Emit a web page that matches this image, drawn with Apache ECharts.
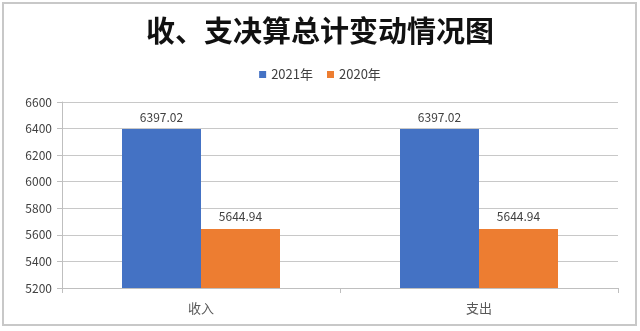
<!DOCTYPE html>
<html>
<head>
<meta charset="utf-8">
<script src="https://cdn.jsdelivr.net/npm/echarts@6/dist/echarts.min.js"></script>
<style>
  html, body { margin: 0; padding: 0; background: #fff; }
  #main { width: 640px; height: 331px; }
</style>
</head>
<body>
<div id="main"></div>
<script>
// 数据
const categories = ['收入', '支出'];
const seriesNames = ['2021年', '2020年'];
const values2021 = [6397.02, 6397.02];
const values2020 = [5644.94, 5644.94];
const yTicks = [5200, 5400, 5600, 5800, 6000, 6200, 6400, 6600];

let chart = echarts.init(document.getElementById('main'));
const fontCn = '"Microsoft YaHei", "Noto Sans CJK SC", sans-serif';

chart.setOption({
  animation: false,
  color: ['#4472C4', '#ED7D31'],
  textStyle: { fontFamily: fontCn },
  graphic: [
    {
      type: 'rect',
      shape: { x: 3, y: 3, width: 633, height: 322 },
      style: { fill: 'none', stroke: '#c8c8c8', lineWidth: 2 }
    }
  ],
  title: {
    text: '收、支决算总计变动情况图',
    left: 'center',
    top: 11,
    textStyle: { fontSize: 29, fontWeight: 'bold', color: '#111', fontFamily: fontCn }
  },
  legend: {
    top: 63,
    left: 'center',
    itemWidth: 7,
    itemHeight: 7,
    itemGap: 14,
    icon: 'rect',
    textStyle: { fontSize: 13, color: '#404040' },
    data: seriesNames
  },
  grid: { left: 62, right: 22, top: 102, bottom: 43 },
  xAxis: {
    type: 'category',
    data: categories,
    axisLine: { lineStyle: { color: '#bfbfbf', width: 1 } },
    axisTick: { show: true, length: 5, lineStyle: { color: '#bfbfbf' } },
    axisLabel: { fontSize: 13, color: '#595959', margin: 14 }
  },
  yAxis: {
    type: 'value',
    min: yTicks[0],
    max: yTicks[yTicks.length - 1],
    interval: 200,
    axisLine: { show: true, lineStyle: { color: '#bfbfbf' } },
    axisTick: { show: true, length: 5, lineStyle: { color: '#bfbfbf' } },
    axisLabel: { fontSize: 12, color: '#404040', margin: 10, formatter: v => String(v) },
    splitLine: { lineStyle: { color: '#c8c8c8', width: 1 } }
  },
  series: [
    {
      name: seriesNames[0],
      type: 'bar',
      data: values2021,
      barWidth: 79,
      barGap: '0%',
      label: { show: true, position: 'top', fontSize: 12, color: '#404040', distance: 6,
               formatter: p => p.value.toFixed(2) }
    },
    {
      name: seriesNames[1],
      type: 'bar',
      data: values2020,
      barWidth: 79,
      barGap: '0%',
      label: { show: true, position: 'top', fontSize: 12, color: '#404040', distance: 6,
               formatter: p => p.value.toFixed(2) }
    }
  ]
});
</script>
</body>
</html>
